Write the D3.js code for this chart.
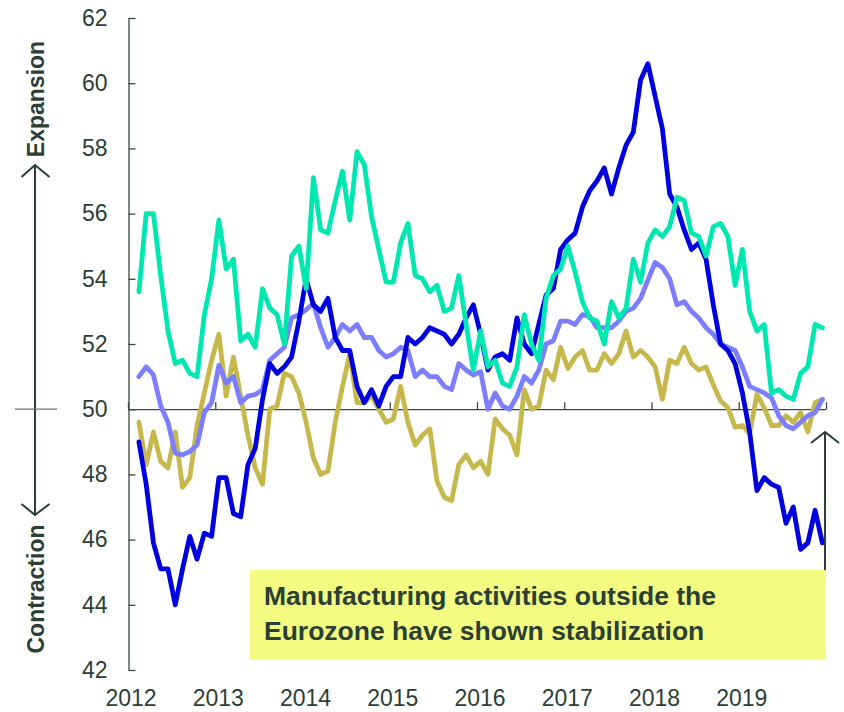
<!DOCTYPE html>
<meta charset="utf-8">
<style>
body { margin: 0; background: #fff; }
text { font-family: "Liberation Sans", Arial, sans-serif; fill: #2b3f35; }
.axis text { font-size: 23px; }
.axis path, .axis line { stroke: #3a4a40; stroke-width: 1.3; }
.line { fill: none; stroke-width: 4.8; stroke-linejoin: round; stroke-linecap: round; }
</style>
<body>
<script src="https://d3js.org/d3.v7.min.js"></script>
<script>

// monthly PMI readings, Feb 2012 .. Dec 2019
var euroPMI = [
  49.0, 47.7, 45.9, 45.1, 45.1, 44.0, 45.1, 46.1, 45.4, 46.2, 46.1,
  47.9, 47.9, 46.8, 46.7, 48.3, 48.8, 50.3, 51.4, 51.1, 51.3, 51.6, 52.7,
  54.0, 53.2, 53.0, 53.4, 52.2, 51.8, 51.8, 50.7, 50.2, 50.6, 50.1, 50.7,
  51.0, 51.0, 52.2, 52.0, 52.2, 52.5, 52.4, 52.3, 52.0, 52.3, 52.8, 53.2,
  52.3, 51.2, 51.6, 51.7, 51.5, 52.8, 52.0, 51.7, 52.6, 53.5, 53.7, 54.9,
  55.2, 55.4, 56.2, 56.7, 57.0, 57.4, 56.6, 57.4, 58.1, 58.5, 60.1, 60.6,
  59.6, 58.6, 56.6, 56.2, 55.5, 54.9, 55.1, 54.6, 53.2, 52.0, 51.8, 51.4,
  50.5, 49.3, 47.5, 47.9, 47.7, 47.6, 46.5, 47.0, 45.7, 45.9, 46.9, 45.9
];
var usPMI = [
  53.6, 56.0, 56.0, 54.1, 52.4, 51.4, 51.5, 51.1, 51.0, 52.9, 54.0,
  55.8, 54.3, 54.6, 52.1, 52.3, 51.9, 53.7, 53.1, 52.9, 52.0, 54.7, 55.0,
  53.7, 57.1, 55.5, 55.4, 56.4, 57.3, 55.8, 57.9, 57.5, 55.9, 54.9, 53.9,
  53.9, 55.1, 55.7, 54.1, 54.0, 53.6, 53.8, 53.0, 53.1, 54.1, 52.6, 51.2,
  52.4, 51.3, 51.5, 50.8, 50.7, 51.3, 52.9, 52.0, 51.5, 53.4, 54.1, 54.3,
  55.0, 54.2, 53.3, 52.8, 52.7, 52.0, 53.3, 52.8, 53.1, 54.6, 53.9, 55.1,
  55.5, 55.3, 55.6, 56.5, 56.4, 55.4, 55.3, 54.7, 55.6, 55.7, 55.3, 53.8,
  54.9, 53.0, 52.4, 52.6, 50.5, 50.6, 50.4, 50.3, 51.1, 51.3, 52.6, 52.5
];
var chinaPMI = [
  49.6, 48.3, 49.3, 48.4, 48.2, 49.3, 47.6, 47.9, 49.5, 50.5, 51.5,
  52.3, 50.4, 51.6, 50.4, 49.2, 48.2, 47.7, 50.0, 50.1, 51.1, 51.0, 50.5,
  49.6, 48.5, 48.0, 48.1, 49.6, 50.7, 51.7, 50.2, 50.2, 50.4, 50.0, 49.6,
  49.7, 50.7, 49.6, 48.9, 49.2, 49.4, 47.8, 47.3, 47.2, 48.3, 48.6, 48.2,
  48.4, 48.0, 49.7, 49.4, 49.2, 48.6, 50.6, 50.0, 50.1, 51.2, 50.9, 51.9,
  51.25, 51.6, 51.8, 51.2, 51.2, 51.7, 51.4, 51.7, 52.4, 51.6, 51.8, 51.6,
  51.3, 50.3, 51.5, 51.4, 51.9, 51.4, 51.2, 51.3, 50.75, 50.25, 50.05, 49.45,
  49.5, 49.25, 50.45, 50.05, 49.5, 49.5, 49.8, 49.6, 49.9, 49.3, 50.2, 50.3
];
var globalPMI = [
  51.0, 51.3, 51.05, 50.1, 49.6, 48.65, 48.6, 48.7, 48.9, 49.9, 50.2,
  51.35, 50.8, 51.0, 50.2, 50.4, 50.45, 50.6, 51.5, 51.7, 51.9, 52.8, 52.9,
  53.05, 53.25, 52.5, 51.9, 52.2, 52.6, 52.4, 52.6, 52.2, 52.2, 51.8, 51.6,
  51.7, 51.9, 51.8, 51.0, 51.2, 51.0, 51.0, 50.7, 50.6, 51.4, 51.2, 51.05,
  51.15, 50.0, 50.5, 50.1, 50.0, 50.4, 51.0, 50.8, 51.2, 52.0, 52.1, 52.7,
  52.7, 52.6, 52.9, 52.85, 52.5, 52.5, 52.5, 52.7, 53.0, 53.1, 53.4, 53.96,
  54.5, 54.35, 54.0, 53.2, 53.3, 53.0, 52.8, 52.5, 52.3, 52.0, 51.9, 51.8,
  51.3, 50.7, 50.6, 50.5, 50.35, 49.8, 49.5, 49.4, 49.6, 49.8, 49.9, 50.3
];

var yearLabels = ["2012", "2013", "2014", "2015", "2016", "2017", "2018", "2019"];
var yTicks = [42, 44, 46, 48, 50, 52, 54, 56, 58, 60, 62];

var series = [
  { values: chinaPMI,  color: "#c7b84c" },
  { values: globalPMI, color: "#7b7fff" },
  { values: euroPMI,   color: "#0000e0" },
  { values: usPMI,     color: "#00e8b2" }
];

var width = 844, height = 712;

var x = d3.scaleLinear()
    .domain([2012, 2020])
    .range([128, 826]);
var y = d3.scaleLinear()
    .domain([42, 62])
    .range([670, 18]);

// first reading is Feb 2012, plotted mid-month
function monthPos(i) { return 2012 + (i + 1.5) / 12; }

var svg = d3.select("body").append("svg")
    .attr("width", width)
    .attr("height", height);

// yellow comment box (drawn first so lines stay on top)
svg.append("rect")
    .attr("x", 250).attr("y", 570)
    .attr("width", 576).attr("height", 90)
    .style("fill", "#f3fc80");

var box = svg.append("text")
    .style("font-size", "26.5px")
    .style("font-weight", "bold");
box.append("tspan").attr("x", 264).attr("y", 605).text("Manufacturing activities outside the");
box.append("tspan").attr("x", 264).attr("y", 640).text("Eurozone have shown stabilization");

// y axis, ticks pointing inward
svg.append("g")
    .attr("class", "axis")
    .attr("transform", "translate(128.5,0)")
    .call(d3.axisLeft(y).tickValues(yTicks).tickSizeInner(-7).tickSizeOuter(0).tickPadding(21))
    .call(function(g) { g.selectAll("text").style("fill", "#2b3f35"); });

// 50 line with year ticks pointing up
svg.append("g")
    .attr("class", "axis")
    .attr("transform", "translate(0," + y(50) + ")")
    .call(d3.axisBottom(x).ticks(8).tickFormat("").tickSizeInner(-7).tickSizeOuter(0));

svg.selectAll(".year")
    .data(yearLabels)
  .enter().append("text")
    .attr("class", "year")
    .attr("x", function(d) { return x(+d) + 3; })
    .attr("y", 706)
    .style("text-anchor", "middle")
    .style("font-size", "23px")
    .text(function(d) { return d; });

var line = d3.line()
    .x(function(d, i) { return x(monthPos(i)); })
    .y(function(d) { return y(d); });

svg.selectAll(".line")
    .data(series)
  .enter().append("path")
    .attr("class", "line")
    .style("stroke", function(d) { return d.color; })
    .attr("d", function(d) { return line(d.values); });

// expansion / contraction arrows on the left
var arrowColor = "#2b3f35";
svg.append("line")
    .attr("x1", 35).attr("x2", 35)
    .attr("y1", 165).attr("y2", 515)
    .style("stroke", arrowColor).style("stroke-width", 2);
svg.append("line")
    .attr("x1", 15).attr("x2", 57)
    .attr("y1", y(50)).attr("y2", y(50))
    .style("stroke", "#6a7a70").style("stroke-width", 1.3);
svg.append("path")
    .attr("d", "M21.5,177L35,165L49.5,177")
    .style("fill", "none").style("stroke", arrowColor).style("stroke-width", 2);
svg.append("path")
    .attr("d", "M21.5,504L35,515L49.5,504")
    .style("fill", "none").style("stroke", arrowColor).style("stroke-width", 2);

svg.append("text")
    .attr("transform", "translate(44,99) rotate(-90)")
    .style("text-anchor", "middle")
    .style("font-size", "23px")
    .style("font-weight", "bold")
    .text("Expansion");
svg.append("text")
    .attr("transform", "translate(44,589) rotate(-90)")
    .style("text-anchor", "middle")
    .style("font-size", "23px")
    .style("font-weight", "bold")
    .text("Contraction");

// arrow on the right edge
svg.append("line")
    .attr("x1", 825).attr("x2", 825)
    .attr("y1", 432).attr("y2", 570)
    .style("stroke", arrowColor).style("stroke-width", 2);
svg.append("path")
    .attr("d", "M811,443L825,432L839,443")
    .style("fill", "none").style("stroke", arrowColor).style("stroke-width", 2);

</script>
</body>
